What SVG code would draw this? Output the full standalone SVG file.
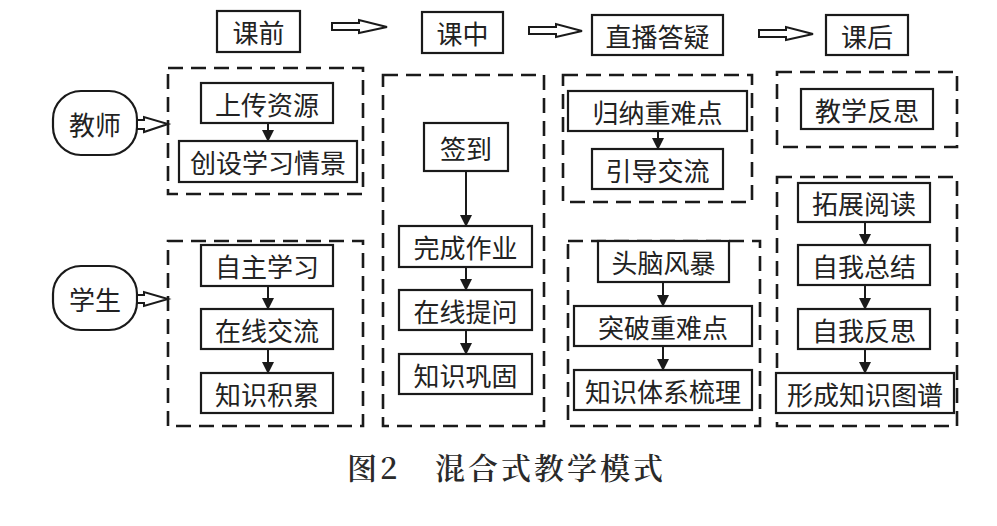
<svg xmlns="http://www.w3.org/2000/svg" width="997" height="526" viewBox="0 0 997 526">
<style>
.box{fill:#fff;stroke:#1a1a1a;stroke-width:2.2}
.dash{fill:none;stroke:#1a1a1a;stroke-width:2.6;stroke-dasharray:15 8}
.t{font-family:"Noto Sans CJK SC","Noto Sans",sans-serif;font-size:26px;fill:#222;text-anchor:middle;dominant-baseline:central}
.hollow{fill:#fff;stroke:#1a1a1a;stroke-width:2;stroke-linejoin:miter}
.conn{stroke:#1a1a1a;stroke-width:2;fill:none;marker-end:url(#ah)}
.cap{font-family:"Noto Serif CJK SC","Noto Sans CJK SC",serif;font-size:30px;fill:#2a2a2a;font-weight:600;letter-spacing:3px}
</style>
<defs>
<marker id="ah" markerUnits="userSpaceOnUse" markerWidth="12" markerHeight="12" refX="11" refY="6" orient="auto">
<path d="M0,0 L12,6 L0,12 z" fill="#1a1a1a"/>
</marker>
</defs>
<rect width="997" height="526" fill="#fff"/>

<!-- dashed group frames -->
<g id="frames">
<rect class="dash" x="168" y="68" width="195" height="126"/>
<rect class="dash" x="168" y="241" width="195" height="185"/>
<rect class="dash" x="383" y="75" width="161" height="351"/>
<rect class="dash" x="563" y="75" width="189" height="127"/>
<rect class="dash" x="568" y="241" width="192" height="185"/>
<rect class="dash" x="777" y="72" width="180" height="75"/>
<rect class="dash" x="777" y="177" width="180" height="249"/>
</g>

<!-- header -->
<g id="h-kq"><rect class="box" x="217" y="11" width="83" height="41"/><text class="t" x="258.5" y="31.5">课前</text></g>
<g id="h-kz"><rect class="box" x="422" y="12" width="81" height="41"/><text class="t" x="462.5" y="32.5">课中</text></g>
<g id="h-zb"><rect class="box" x="592" y="15" width="131" height="40"/><text class="t" x="657.5" y="35">直播答疑</text></g>
<g id="h-kh"><rect class="box" x="826" y="15" width="82" height="40"/><text class="t" x="867" y="35">课后</text></g>

<!-- actors -->
<g id="teacher"><rect class="box" x="53" y="91" width="84" height="64" rx="28" ry="28"/><text class="t" x="95" y="123">教师</text></g>
<g id="student"><rect class="box" x="53" y="266" width="84" height="64" rx="28" ry="28"/><text class="t" x="95" y="298">学生</text></g>

<!-- 课前 teacher -->
<g id="n-sczy"><rect class="box" x="201" y="83" width="132" height="40"/><text class="t" x="267" y="103">上传资源</text></g>
<g id="n-cssx"><rect class="box" x="179" y="141" width="178" height="41"/><text class="t" x="268" y="161.5">创设学习情景</text></g>
<!-- 课前 student -->
<g id="n-zzxx"><rect class="box" x="201" y="245" width="132" height="41"/><text class="t" x="267" y="265.5">自主学习</text></g>
<g id="n-zxjl"><rect class="box" x="201" y="309" width="132" height="40"/><text class="t" x="267" y="329">在线交流</text></g>
<g id="n-zsjl"><rect class="box" x="201" y="373" width="132" height="40"/><text class="t" x="267" y="393">知识积累</text></g>

<!-- 课中 -->
<g id="n-qd"><rect class="box" x="424" y="123" width="84" height="48"/><text class="t" x="466" y="147">签到</text></g>
<g id="n-wczy"><rect class="box" x="399" y="226" width="133" height="41"/><text class="t" x="465.5" y="246.5">完成作业</text></g>
<g id="n-zxtw"><rect class="box" x="399" y="290" width="133" height="40"/><text class="t" x="465.5" y="310">在线提问</text></g>
<g id="n-zsgg"><rect class="box" x="399" y="354" width="133" height="40"/><text class="t" x="465.5" y="374">知识巩固</text></g>

<!-- 直播答疑 -->
<g id="n-gnzn"><rect class="box" x="568" y="91" width="179" height="40"/><text class="t" x="657.5" y="111">归纳重难点</text></g>
<g id="n-ydjl"><rect class="box" x="592" y="149" width="131" height="40"/><text class="t" x="657.5" y="169">引导交流</text></g>
<g id="n-tnfb"><rect class="box" x="598" y="241" width="131" height="41"/><text class="t" x="663.5" y="261.5">头脑风暴</text></g>
<g id="n-tpzn"><rect class="box" x="574" y="306" width="178" height="40"/><text class="t" x="663" y="326">突破重难点</text></g>
<g id="n-zstx"><rect class="box" x="574" y="370" width="178" height="40"/><text class="t" x="663" y="390">知识体系梳理</text></g>

<!-- 课后 -->
<g id="n-jxfs"><rect class="box" x="801" y="89" width="132" height="40"/><text class="t" x="867" y="109">教学反思</text></g>
<g id="n-tzyd"><rect class="box" x="798" y="183" width="132" height="39"/><text class="t" x="864" y="202.5">拓展阅读</text></g>
<g id="n-zwzj"><rect class="box" x="798" y="245" width="132" height="40"/><text class="t" x="864" y="265">自我总结</text></g>
<g id="n-zwfs"><rect class="box" x="798" y="309" width="132" height="40"/><text class="t" x="864" y="329">自我反思</text></g>
<g id="n-xczs"><rect class="box" x="776" y="373" width="178" height="40"/><text class="t" x="865" y="393">形成知识图谱</text></g>

<!-- connectors -->
<g id="connectors">
<polygon class="hollow" points="332,23 359,23 359,20 387,27 359,33 359,30 332,30"/>
<polygon class="hollow" points="529,27 556,27 556,24 582,31 556,37 556,34 529,34"/>
<polygon class="hollow" points="759,30 786,30 786,27 813,34 786,40 786,37 759,37"/>
<polygon class="hollow" points="137,120 144,120 144,117 168,124 144,132 144,129 137,129"/>
<polygon class="hollow" points="137,295 144,295 144,292 168,299 144,306 144,303 137,303"/>
<line class="conn" x1="268" y1="123" x2="268" y2="141"/>
<line class="conn" x1="268" y1="286" x2="268" y2="309"/>
<line class="conn" x1="268" y1="349" x2="268" y2="373"/>
<line class="conn" x1="466" y1="171" x2="466" y2="226"/>
<line class="conn" x1="466" y1="267" x2="466" y2="290"/>
<line class="conn" x1="466" y1="330" x2="466" y2="354"/>
<line class="conn" x1="658" y1="131" x2="658" y2="149"/>
<line class="conn" x1="663" y1="282" x2="663" y2="306"/>
<line class="conn" x1="663" y1="346" x2="663" y2="370"/>
<line class="conn" x1="865" y1="222" x2="865" y2="245"/>
<line class="conn" x1="865" y1="285" x2="865" y2="309"/>
<line class="conn" x1="865" y1="349" x2="865" y2="373"/>
</g>

<text class="cap" x="347" y="479">图2</text>
<text class="cap" x="435" y="479">混合式教学模式</text>
</svg>
